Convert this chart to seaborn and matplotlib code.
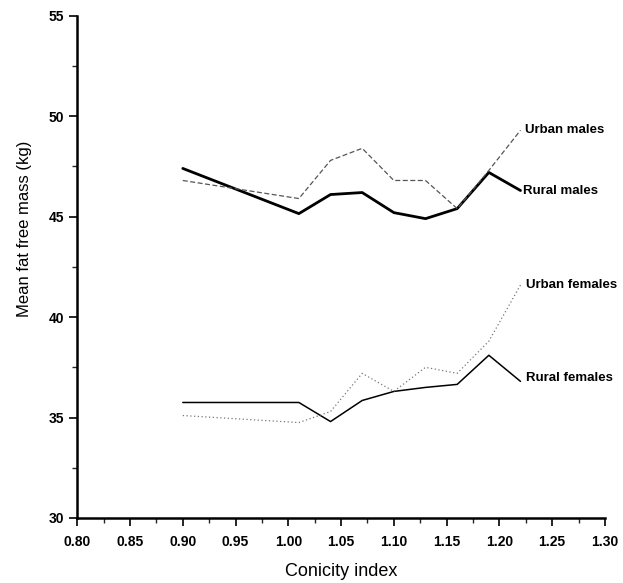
import matplotlib
matplotlib.use("Agg")
import matplotlib.pyplot as plt
from matplotlib.ticker import MultipleLocator, FormatStrFormatter
import seaborn as sns
import pandas as pd

# Conicity index values at which mean fat free mass was computed
conicity = [0.90, 1.01, 1.04, 1.07, 1.10, 1.13, 1.16, 1.19, 1.22]

# Mean fat free mass (kg) per group
rural_males = [47.4, 45.15, 46.1, 46.2, 45.2, 44.9, 45.4, 47.2, 46.3]
urban_males = [46.8, 45.9, 47.8, 48.4, 46.8, 46.8, 45.4, 47.3, 49.3]
rural_females = [35.75, 35.75, 34.8, 35.85, 36.3, 36.5, 36.65, 38.1, 36.8]
urban_females = [35.1, 34.75, 35.3, 37.2, 36.3, 37.5, 37.2, 38.8, 41.6]

groups = ["Rural males", "Urban males", "Rural females", "Urban females"]
values = [rural_males, urban_males, rural_females, urban_females]

df = pd.concat(
    [pd.DataFrame({"Conicity index": conicity, "ffm": v, "group": g})
     for g, v in zip(groups, values)],
    ignore_index=True,
)

sns.set_theme(style="ticks")
plt.rcParams["font.family"] = ["Liberation Sans", "DejaVu Sans"]

fig = plt.figure(figsize=(6.23, 5.83), dpi=100)
ax = fig.add_axes([0.124, 0.1115, 0.847, 0.8615])

line_styles = {
    "Rural males": dict(color="black", lw=2.0, ls="-"),
    "Urban males": dict(color="#555555", lw=0.9, ls=(0, (4, 2))),
    "Rural females": dict(color="black", lw=1.1, ls="-"),
    "Urban females": dict(color="#777777", lw=0.9, ls=(0, (1, 2))),
}

for g in groups:
    sub = df[df["group"] == g]
    sns.lineplot(data=sub, x="Conicity index", y="ffm", ax=ax,
                 estimator=None, sort=False, legend=False, **line_styles[g])

# Group labels at the right-hand end of each curve
label_pos = {
    "Urban males": (1.224, urban_males[-1]),
    "Rural males": (1.222, rural_males[-1]),
    "Urban females": (1.225, urban_females[-1]),
    "Rural females": (1.225, 36.95),
}
for g, (x, y) in label_pos.items():
    ax.text(x, y, g, fontsize=9.5, fontweight="bold", va="center", ha="left",
            color="black")

ax.set_xlim(0.80, 1.30)
ax.set_ylim(30, 55)
ax.xaxis.set_major_locator(MultipleLocator(0.05))
ax.xaxis.set_minor_locator(MultipleLocator(0.025))
ax.yaxis.set_major_locator(MultipleLocator(5))
ax.yaxis.set_minor_locator(MultipleLocator(2.5))
ax.xaxis.set_major_formatter(FormatStrFormatter("%.2f"))

ax.tick_params(axis="both", which="major", direction="out", length=5.5,
               width=1.2, labelsize=10, colors="black")
ax.tick_params(axis="x", which="major", pad=7)
ax.tick_params(axis="y", which="major", pad=4)
ax.tick_params(axis="both", which="minor", direction="out", length=3.5,
               width=1.0)
for lab in ax.get_xticklabels() + ax.get_yticklabels():
    lab.set_fontweight("bold")

for side in ["top", "right"]:
    ax.spines[side].set_visible(False)
for side in ["left", "bottom"]:
    ax.spines[side].set_linewidth(1.8)
    ax.spines[side].set_color("black")

ax.set_xlabel("Conicity index", fontsize=13, color="black")
ax.set_ylabel("Mean fat free mass (kg)", fontsize=12, color="black")
ax.xaxis.label.set_va("center")
ax.xaxis.set_label_coords(0.5, -0.106)
ax.yaxis.set_label_coords(-0.085, 0.575)

fig.savefig("out.png", dpi=100)
